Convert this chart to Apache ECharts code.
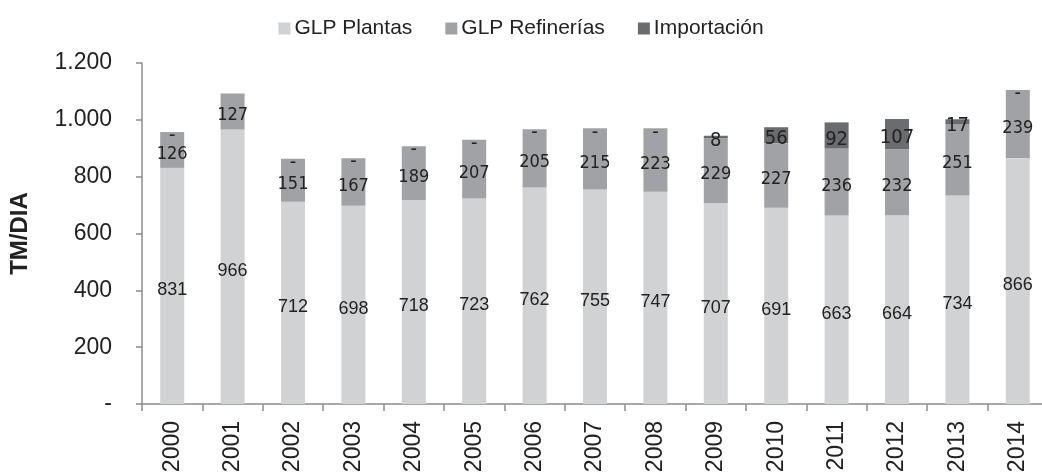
<!DOCTYPE html>
<html style="height: 100%">
<head>
<meta charset="utf-8">
</head>
<body style="height: 100%; margin: 0; background: #fff">
<div id="container" style="width: 1042px; height: 475px"></div>
<script src="https://cdn.jsdelivr.net/npm/echarts@6/dist/echarts.min.js"></script>
<script type="text/javascript">
var years = ['2000','2001','2002','2003','2004','2005','2006','2007','2008','2009','2010','2011','2012','2013','2014'];
var plantas = [831, 966, 712, 698, 718, 723, 762, 755, 747, 707, 691, 663, 664, 734, 866];
var refinerias = [126, 127, 151, 167, 189, 207, 205, 215, 223, 229, 227, 236, 232, 251, 239];
var importacion = [0, 0, 0, 0, 0, 0, 0, 0, 0, 8, 56, 92, 107, 17, 0];
var yTicks = [0, 200, 400, 600, 800, 1000, 1200];

var narrow = "'Liberation Sans Narrow', 'DejaVu Sans Condensed', sans-serif";
var arial = "'Liberation Sans', Arial, sans-serif";

function dash(p) { return p.value === 0 ? '-' : p.value; }

// 2001 has no dash label in the original (covered by the 127 label)
var importData = importacion.map(function (v, i) {
    return i === 1 ? { value: v, label: { show: false } } : v;
});

var myChart = echarts.init(document.getElementById('container'));
var option = {
    animation: false,
    textStyle: { fontFamily: arial },
    legend: {
        top: 13,
        left: 'center',
        itemWidth: 12,
        itemHeight: 12,
        itemGap: 33,
        icon: 'rect',
        textStyle: { fontSize: 21, color: '#222', fontFamily: arial, padding: [0, 0, 0, -1] }
    },
    grid: { left: 142, right: -6, top: 63, bottom: 71, outerBoundsMode: 'none' },
    xAxis: {
        type: 'category',
        data: years,
        axisLine: { lineStyle: { color: '#8c8c8c', width: 1.5 } },
        axisTick: { show: true, length: 7, lineStyle: { color: '#8c8c8c', width: 1.5 } },
        axisLabel: { rotate: 90, margin: 17, fontSize: 23, color: '#222', fontFamily: arial }
    },
    yAxis: {
        type: 'value',
        min: 0,
        max: 1200,
        interval: 200,
        name: 'TM/DIA',
        nameLocation: 'middle',
        nameGap: 110,
        nameTextStyle: { fontSize: 24, fontWeight: 'bold', color: '#222', fontFamily: arial },
        axisLine: { show: true, lineStyle: { color: '#8c8c8c', width: 1.5 } },
        axisTick: { show: true, length: 6, lineStyle: { color: '#8c8c8c', width: 1.5 } },
        splitLine: { show: false },
        axisLabel: {
            margin: 30,
            fontSize: 23,
            color: '#222',
            fontFamily: arial,
            customValues: yTicks,
            formatter: function (v) {
                if (v === 0) return '-';
                return String(v).replace(/\B(?=(\d{3})+(?!\d))/g, '.');
            }
        }
    },
    series: [
        {
            name: 'GLP Plantas',
            type: 'bar',
            stack: 'total',
            barWidth: 24,
            data: plantas,
            itemStyle: { color: '#d1d2d4' },
            label: { show: true, position: 'inside', offset: [0, 4], fontSize: 18, color: '#222', fontFamily: arial }
        },
        {
            name: 'GLP Refinerías',
            type: 'bar',
            stack: 'total',
            barWidth: 24,
            data: refinerias,
            itemStyle: { color: '#a1a2a5' },
            label: { show: true, position: 'inside', offset: [0, 4], fontSize: 18, color: '#222', fontFamily: narrow }
        },
        {
            name: 'Importación',
            type: 'bar',
            stack: 'total',
            barWidth: 24,
            data: importData,
            itemStyle: { color: '#6b6c6f' },
            label: { show: true, position: 'inside', offset: [0, 4], fontSize: 20, color: '#222', fontFamily: narrow, formatter: dash }
        }
    ]
};
myChart.setOption(option);
</script>
</body>
</html>
